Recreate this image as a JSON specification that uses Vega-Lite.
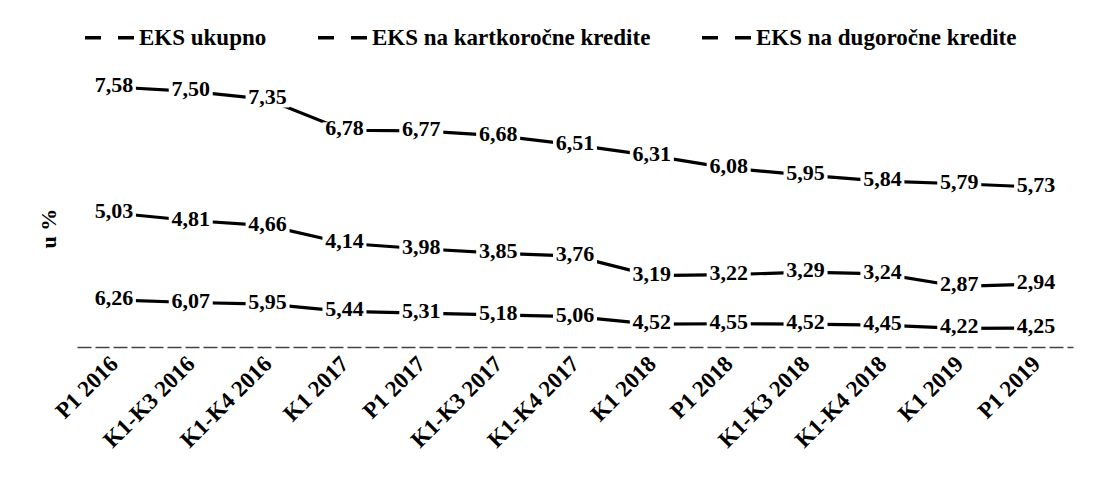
{
  "$schema": "https://vega.github.io/schema/vega-lite/v6.json",
  "width": 996,
  "height": 287,
  "autosize": {"type": "none"},
  "padding": {"left": 77, "top": 60, "right": 20, "bottom": 136},
  "background": "white",
  "config": {
    "locale": {"number": {"decimal": ",", "thousands": ".", "grouping": [3], "currency": ["", " €"]}},
    "view": {"stroke": null},
    "font": "Liberation Serif, DejaVu Serif, serif"
  },
  "data": {
    "values": [
      {"period": "P1 2016", "series": "EKS na kartkoročne kredite", "value": 7.58},
      {"period": "K1-K3 2016", "series": "EKS na kartkoročne kredite", "value": 7.50},
      {"period": "K1-K4 2016", "series": "EKS na kartkoročne kredite", "value": 7.35},
      {"period": "K1 2017", "series": "EKS na kartkoročne kredite", "value": 6.78},
      {"period": "P1 2017", "series": "EKS na kartkoročne kredite", "value": 6.77},
      {"period": "K1-K3 2017", "series": "EKS na kartkoročne kredite", "value": 6.68},
      {"period": "K1-K4 2017", "series": "EKS na kartkoročne kredite", "value": 6.51},
      {"period": "K1 2018", "series": "EKS na kartkoročne kredite", "value": 6.31},
      {"period": "P1 2018", "series": "EKS na kartkoročne kredite", "value": 6.08},
      {"period": "K1-K3 2018", "series": "EKS na kartkoročne kredite", "value": 5.95},
      {"period": "K1-K4 2018", "series": "EKS na kartkoročne kredite", "value": 5.84},
      {"period": "K1 2019", "series": "EKS na kartkoročne kredite", "value": 5.79},
      {"period": "P1 2019", "series": "EKS na kartkoročne kredite", "value": 5.73},
      {"period": "P1 2016", "series": "EKS na dugoročne kredite", "value": 5.03},
      {"period": "K1-K3 2016", "series": "EKS na dugoročne kredite", "value": 4.81},
      {"period": "K1-K4 2016", "series": "EKS na dugoročne kredite", "value": 4.66},
      {"period": "K1 2017", "series": "EKS na dugoročne kredite", "value": 4.14},
      {"period": "P1 2017", "series": "EKS na dugoročne kredite", "value": 3.98},
      {"period": "K1-K3 2017", "series": "EKS na dugoročne kredite", "value": 3.85},
      {"period": "K1-K4 2017", "series": "EKS na dugoročne kredite", "value": 3.76},
      {"period": "K1 2018", "series": "EKS na dugoročne kredite", "value": 3.19},
      {"period": "P1 2018", "series": "EKS na dugoročne kredite", "value": 3.22},
      {"period": "K1-K3 2018", "series": "EKS na dugoročne kredite", "value": 3.29},
      {"period": "K1-K4 2018", "series": "EKS na dugoročne kredite", "value": 3.24},
      {"period": "K1 2019", "series": "EKS na dugoročne kredite", "value": 2.87},
      {"period": "P1 2019", "series": "EKS na dugoročne kredite", "value": 2.94},
      {"period": "P1 2016", "series": "EKS ukupno", "value": 6.26},
      {"period": "K1-K3 2016", "series": "EKS ukupno", "value": 6.07},
      {"period": "K1-K4 2016", "series": "EKS ukupno", "value": 5.95},
      {"period": "K1 2017", "series": "EKS ukupno", "value": 5.44},
      {"period": "P1 2017", "series": "EKS ukupno", "value": 5.31},
      {"period": "K1-K3 2017", "series": "EKS ukupno", "value": 5.18},
      {"period": "K1-K4 2017", "series": "EKS ukupno", "value": 5.06},
      {"period": "K1 2018", "series": "EKS ukupno", "value": 4.52},
      {"period": "P1 2018", "series": "EKS ukupno", "value": 4.55},
      {"period": "K1-K3 2018", "series": "EKS ukupno", "value": 4.52},
      {"period": "K1-K4 2018", "series": "EKS ukupno", "value": 4.45},
      {"period": "K1 2019", "series": "EKS ukupno", "value": 4.22},
      {"period": "P1 2019", "series": "EKS ukupno", "value": 4.25}
    ]
  },
  "encoding": {
    "x": {
      "field": "period",
      "type": "ordinal",
      "sort": null,
      "scale": {
        "type": "point",
        "padding": 0.48,
        "domain": ["P1 2016", "K1-K3 2016", "K1-K4 2016", "K1 2017", "P1 2017", "K1-K3 2017", "K1-K4 2017", "K1 2018", "P1 2018", "K1-K3 2018", "K1-K4 2018", "K1 2019", "P1 2019"]
      },
      "axis": {
        "title": null,
        "labelAngle": -45,
        "labelAlign": "right",
        "labelBaseline": "middle",
        "labelFont": "Liberation Serif, DejaVu Serif, serif",
        "labelFontWeight": "bold",
        "labelFontSize": 23,
        "labelColor": "black",
        "labelPadding": 13,
        "ticks": false,
        "grid": false,
        "domainColor": "#444",
        "domainWidth": 1.5,
        "domainDash": [14, 4]
      }
    }
  },
  "layer": [
    {
      "transform": [{"filter": "datum.series === 'EKS na kartkoročne kredite'"}],
      "encoding": {
        "y": {
          "field": "value",
          "type": "quantitative",
          "scale": {"domain": [2.77, 8.08], "zero": false, "nice": false},
          "axis": {
            "title": "u %",
            "labels": false,
            "ticks": false,
            "domain": false,
            "grid": false,
            "titleFont": "Liberation Serif, DejaVu Serif, serif",
            "titleFontWeight": "bold",
            "titleFontSize": 22,
            "titleColor": "black",
            "titleX": -29,
            "titleY": 168,
            "titleAlign": "center",
            "titleBaseline": "middle",
            "titleAngle": -90
          }
        }
      },
      "layer": [
        {
          "mark": {"type": "line", "strokeWidth": 3.2},
          "encoding": {
            "color": {
              "field": "series",
              "type": "nominal",
              "scale": {"domain": ["EKS ukupno", "EKS na kartkoročne kredite", "EKS na dugoročne kredite"], "range": ["black", "black", "black"]},
              "legend": {
                "title": null,
                "orient": "none",
                "legendX": 6,
                "legendY": -50,
                "direction": "horizontal",
                "symbolType": "stroke",
                "symbolSize": 2601,
                "symbolStrokeWidth": 3.5,
                "symbolDash": [16, 17],
                "labelFont": "Liberation Serif, DejaVu Serif, serif",
                "labelFontWeight": "bold",
                "labelFontSize": 23,
                "labelColor": "black",
                "labelOffset": 1,
                "columnPadding": 44,
                "labelLimit": 400
              }
            }
          }
        },
        {
          "mark": {"type": "point", "shape": "M-1,-0.36H1V0.36H-1Z", "filled": true, "fill": "white", "opacity": 1, "strokeWidth": 0, "size": 1936},
          "encoding": {}
        },
        {
          "mark": {"type": "text", "font": "Liberation Serif, DejaVu Serif, serif", "fontWeight": "bold", "fontSize": 22, "color": "black", "baseline": "middle", "align": "center", "dy": -2},
          "encoding": {"text": {"field": "value", "type": "quantitative", "format": ".2f"}}
        }
      ]
    },
    {
      "transform": [{"filter": "datum.series === 'EKS na dugoročne kredite'"}],
      "encoding": {
        "y": {"field": "value", "type": "quantitative", "scale": {"domain": [1.09, 9.53], "zero": false, "nice": false}, "axis": null}
      },
      "layer": [
        {
          "mark": {"type": "line", "strokeWidth": 3.2},
          "encoding": {"color": {"field": "series", "type": "nominal"}}
        },
        {
          "mark": {"type": "point", "shape": "M-1,-0.36H1V0.36H-1Z", "filled": true, "fill": "white", "opacity": 1, "strokeWidth": 0, "size": 1936},
          "encoding": {}
        },
        {
          "mark": {"type": "text", "font": "Liberation Serif, DejaVu Serif, serif", "fontWeight": "bold", "fontSize": 22, "color": "black", "baseline": "middle", "align": "center", "dy": -2},
          "encoding": {"text": {"field": "value", "type": "quantitative", "format": ".2f"}}
        }
      ]
    },
    {
      "transform": [{"filter": "datum.series === 'EKS ukupno'"}],
      "encoding": {
        "y": {"field": "value", "type": "quantitative", "scale": {"domain": [2.89, 23.4], "zero": false, "nice": false}, "axis": null}
      },
      "layer": [
        {
          "mark": {"type": "line", "strokeWidth": 3.2},
          "encoding": {"color": {"field": "series", "type": "nominal"}}
        },
        {
          "mark": {"type": "point", "shape": "M-1,-0.36H1V0.36H-1Z", "filled": true, "fill": "white", "opacity": 1, "strokeWidth": 0, "size": 1936},
          "encoding": {}
        },
        {
          "mark": {"type": "text", "font": "Liberation Serif, DejaVu Serif, serif", "fontWeight": "bold", "fontSize": 22, "color": "black", "baseline": "middle", "align": "center", "dy": -2},
          "encoding": {"text": {"field": "value", "type": "quantitative", "format": ".2f"}}
        }
      ]
    }
  ],
  "resolve": {"scale": {"y": "independent"}, "axis": {"y": "independent"}}
}
